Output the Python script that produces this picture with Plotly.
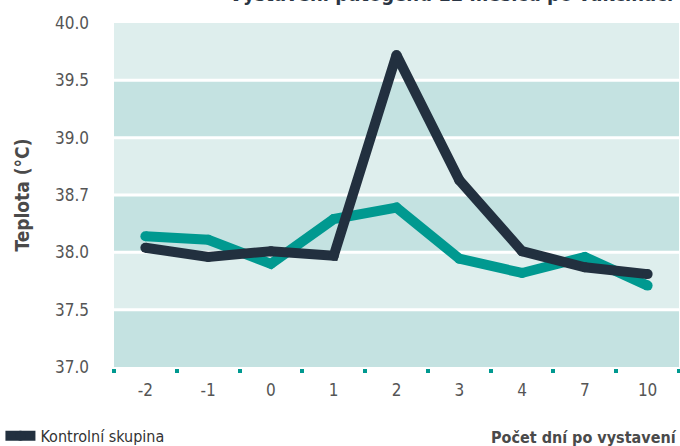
import plotly.graph_objects as go

categories = ["-2", "-1", "0", "1", "2", "3", "4", "7", "10"]
kontrolni = [38.04, 37.96, 38.01, 37.97, 39.72, 38.63, 38.01, 37.87, 37.81]
vakcinovana = [38.14, 38.11, 37.90, 38.29, 38.39, 37.945, 37.82, 37.96, 37.71]
y_tickvals = [37.0, 37.5, 38.0, 38.5, 39.0, 39.5, 40.0]
y_ticktext = ["37.0", "37.5", "38.0", "38.7", "39.0", "39.5", "40.0"]

FONT = "DejaVu Sans Condensed, sans-serif"
DARK = "#22303f"
TEAL = "#009990"
BAND_LIGHT = "#deeeed"
BAND_DARK = "#c4e2e1"

fig = go.Figure()
fig.add_trace(go.Scatter(
    x=categories, y=vakcinovana, mode="lines+markers", name="Vakcinovaná skupina",
    line=dict(color=TEAL, width=10), marker=dict(color=TEAL, size=10),
    showlegend=False))
fig.add_trace(go.Scatter(
    x=categories, y=kontrolni, mode="lines+markers", name="Kontrolní skupina",
    line=dict(color=DARK, width=10), marker=dict(color=DARK, size=10)))

shapes = []
for i in range(len(y_tickvals) - 1):
    lo, hi = y_tickvals[i], y_tickvals[i + 1]
    color = BAND_DARK if i % 2 == 0 else BAND_LIGHT
    shapes.append(dict(type="rect", xref="paper", yref="y", x0=0, x1=1, y0=lo, y1=hi,
                       fillcolor=color, line=dict(width=0), layer="below"))
for v in y_tickvals[1:-1]:
    shapes.append(dict(type="line", xref="paper", yref="y", x0=0, x1=1, y0=v, y1=v,
                       line=dict(color="white", width=3), layer="below"))

fig.update_layout(
    width=680, height=446,
    margin=dict(l=114, r=1, t=23, b=79, autoexpand=False),
    paper_bgcolor="white", plot_bgcolor="white",
    font=dict(family=FONT, color="#555555", size=17),
    shapes=shapes,
    showlegend=True,
    legend=dict(orientation="h", x=-0.201, y=-0.2, xanchor="left", yanchor="middle",
                font=dict(size=16, color="#333333"),
                bgcolor="rgba(0,0,0,0)", itemwidth=30),
    xaxis=dict(type="category", range=[-0.5, 8.5], showgrid=False, zeroline=False,
               showline=True, linecolor="white", linewidth=2, automargin=False,
               ticks="outside", tickson="boundaries", ticklen=4, tickwidth=4,
               tickcolor=TEAL, tickfont=dict(size=17, color="#555555"),
               ticklabelstandoff=7),
    yaxis=dict(range=[37, 40], tickvals=y_tickvals, ticktext=y_ticktext,
               showgrid=False, zeroline=False, showline=False, ticks="", automargin=False,
               tickfont=dict(size=17, color="#555555"), ticklabelstandoff=24,
               title=dict(text="<b>Teplota (°C)</b>", font=dict(size=19, color="#4a4a4a"),
                          standoff=20)),
    annotations=[
        dict(text="<b>Vystavení patogenu 12 měsíců po vakcinaci</b>", xref="paper",
             yref="paper", x=0.993, xanchor="right", y=1, yanchor="bottom", yshift=15,
             showarrow=False, font=dict(size=20, color="#2a3544")),
        dict(text="<b>Počet dní po vystavení</b>", xref="paper", yref="paper",
             x=1.0, xanchor="right", y=0, yanchor="middle", yshift=-70,
             showarrow=False, font=dict(size=16, color="#4a4a4a")),
    ],
)

fig.write_html("out.html", config={"displayModeBar": False},
               post_script="document.body.style.margin='0';document.body.style.overflow='hidden';")
